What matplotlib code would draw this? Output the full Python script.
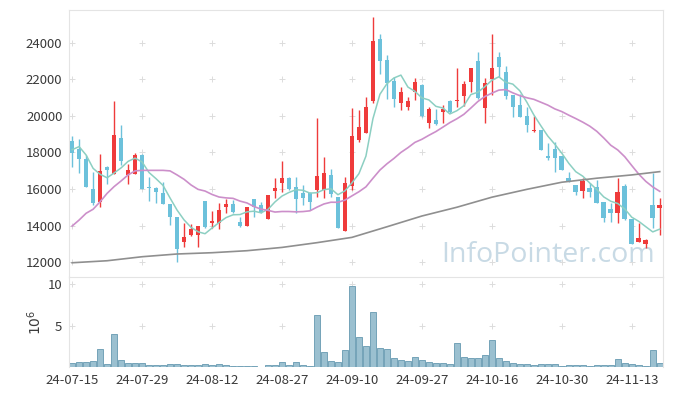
import matplotlib
matplotlib.use("Agg")
import matplotlib.pyplot as plt
import numpy as np
import pandas as pd

plt.rcParams['font.family'] = ['Noto Sans CJK KR', 'DejaVu Sans']

# daily OHLC, 2024-07-15 .. 2024-11-19 (85 trading days)
opens = [18630, 18210, 17640, 15980, 15270, 17200, 16820, 18810, 16780, 16840,
         17860, 16110, 16050, 15800, 15180, 14470, 13080, 13500, 13480, 15340,
         14150, 14120, 15030, 15180, 14190, 13990, 15450, 15120, 14370, 15910,
         16310, 16600, 16090, 15760, 15800, 15950, 15950, 16770, 15550, 13680,
         16180, 18680, 19080, 20840, 24220, 23070, 21920, 20730, 20510, 21300,
         21700, 19600, 19780, 20240, 20840, 20810, 21110, 21880, 23010, 20420,
         22010, 23220, 22390, 21150, 20600, 20000, 19150, 19230, 17810, 18190,
         17810, 16590, 16220, 15910, 16070, 16090, 15270, 14900, 14670, 16160,
         14360, 13110, 12970, 15120, 14980]
highs = [18900, 18720, 17860, 16950, 17920, 17280, 20820, 19490, 17370, 17960,
         17900, 16670, 16130, 16400, 15180, 14470, 14120, 14080, 13970, 15340,
         14790, 15220, 15440, 15400, 14450, 15000, 15450, 15300, 15670, 16590,
         17520, 16670, 16640, 16220, 15850, 19870, 17740, 17080, 15580, 16670,
         20420, 20330, 21060, 25440, 24490, 23340, 22150, 21610, 21060, 22100,
         21740, 20510, 20370, 20600, 20880, 22610, 21920, 22610, 23520, 22070,
         24490, 23490, 22760, 21150, 21210, 20510, 20000, 19230, 18500, 18560,
         17810, 16950, 16220, 16590, 16350, 16490, 15270, 15220, 16590, 16270,
         14360, 14120, 13240, 16860, 15490]
lows = [17220, 16860, 16090, 15120, 15000, 16270, 16810, 17330, 16270, 16820,
        16000, 15360, 15220, 15190, 14010, 11990, 12840, 13430, 12840, 13850,
        13850, 13790, 14670, 14670, 13930, 13990, 14480, 14670, 14370, 15490,
        15850, 15950, 14670, 15120, 14850, 15580, 15490, 15580, 13880, 13680,
        15950, 18590, 19050, 20700, 22300, 20930, 20510, 20330, 20330, 20880,
        19930, 19330, 19510, 19630, 20150, 20480, 20550, 21330, 20930, 19600,
        21150, 22150, 20930, 19960, 19960, 19140, 19120, 18140, 17590, 16920,
        17040, 16400, 15670, 15490, 15580, 15220, 14210, 14210, 14150, 14300,
        12990, 13110, 12750, 13850, 13480]
closes = [17990, 17660, 16130, 15250, 16990, 17040, 18960, 17530, 17040, 17880,
          16000, 16040, 15850, 15190, 14450, 12700, 13350, 13810, 13970, 13920,
          14260, 14850, 15160, 14740, 13990, 15000, 15030, 14720, 15670, 16040,
          16600, 16020, 15470, 15510, 15270, 16710, 16860, 15710, 13880, 16330,
          18900, 19380, 20510, 24110, 23030, 21790, 20950, 21300, 20840, 21860,
          20000, 20380, 19550, 20380, 20240, 20880, 21750, 22610, 21000, 21790,
          22610, 22700, 21100, 20510, 19960, 19510, 19210, 18140, 17670, 17720,
          17040, 16450, 15850, 16440, 15850, 15250, 14430, 14670, 15820, 14360,
          12990, 13300, 13210, 14390, 15120]
# volume, millions of shares
volumes = [0.48, 0.6, 0.6, 0.72, 2.16, 0.36, 3.96, 0.88, 0.48, 0.48,
           0.48, 0.24, 0.24, 0.24, 0.36, 0.36, 0.24, 0.24, 0.24, 0.36,
           0.24, 0.36, 0.24, 0.12, 0.12, 0.12, 0.12, 0.02, 0.24, 0.24,
           0.6, 0.24, 0.6, 0.24, 0.12, 6.24, 1.8, 0.72, 0.6, 2.04,
           9.76, 3.6, 2.52, 6.6, 2.28, 2.16, 1.08, 0.84, 0.72, 1.2,
           0.84, 0.6, 0.48, 0.48, 0.36, 2.88, 1.2, 1.08, 1.08, 1.44,
           3.24, 1.08, 0.72, 0.48, 0.36, 0.36, 0.24, 0.36, 0.36, 0.36,
           0.12, 0.24, 0.24, 0.24, 0.12, 0.24, 0.24, 0.24, 0.96, 0.48,
           0.36, 0.24, 0.12, 2.04, 0.48]

# moving averages before enough visible history exists
ma5_head = [18150, 18320, 17860, 17130]
ma20_head = [13970, 14300, 14670, 14890, 15300, 15760, 16130, 16440, 16770, 16990,
             17020, 17020, 17020, 17020, 16990, 16770, 16530, 16220, 15980]
# 120-day average, read every 5 sessions
ma120_idx = [0, 5, 10, 15, 20, 25, 30, 35, 40, 45, 50, 55, 60, 65, 70, 75, 80, 84]
ma120_val = [11960, 12070, 12290, 12440, 12510, 12620, 12800, 13060, 13350, 13930,
             14520, 15000, 15550, 15980, 16370, 16590, 16770, 16950]

tick_pos = [0, 10, 20, 30, 40, 50, 60, 70, 80]
tick_labels = ['24-07-15', '24-07-29', '24-08-12', '24-08-27', '24-09-10',
               '24-09-27', '24-10-16', '24-10-30', '24-11-13']
price_ticks = [12000, 14000, 16000, 18000, 20000, 22000, 24000]
vol_ticks = [5, 10]

UP = '#ef3b3b'
DOWN = '#6cc1db'
FRAME = '#e4e4e4'
TXT = '#3a3a3a'

o = np.array(opens)
h = np.array(highs)
l = np.array(lows)
c = np.array(closes)
x = np.arange(len(c))

s = pd.Series(closes, dtype=float)
ma5 = s.rolling(5).mean().to_numpy()
ma5[:4] = ma5_head
ma20 = s.rolling(20).mean().to_numpy()
ma20[:19] = ma20_head

fig = plt.figure(figsize=(6.73, 3.96), dpi=100)
ax = fig.add_axes([0.103, 0.3005, 0.8825, 0.6742])
axv = fig.add_axes([0.103, 0.0732, 0.8825, 0.2273], sharex=ax)

up = c >= o
colors = np.where(up, UP, DOWN)
ax.vlines(x, l, h, colors=colors, linewidth=1.0, zorder=2)
body_lo = np.minimum(o, c)
body_h = np.maximum(np.abs(c - o), 45)
ax.bar(x, body_h, bottom=body_lo, width=0.66, color=colors, linewidth=0, zorder=3)

ax.plot(x, ma5, color='#8ccfc2', linewidth=1.1, zorder=4)
ax.plot(x, ma20, color='#cc8fca', linewidth=1.2, zorder=4)
ax.plot(ma120_idx, ma120_val, color='#8f8f8f', linewidth=1.2, zorder=4)

ax.text(0.986, 0.082, 'InfoPointer.com', transform=ax.transAxes, ha='right', va='center',
        fontsize=20.5, color='#c8dae5', family=['Open Sans', 'DejaVu Sans'], zorder=1)

ax.set_xlim(-0.4, 84.5)
ax.set_ylim(11180, 25800)
ax.set_yticks(price_ticks)
ax.set_yticklabels([str(v) for v in price_ticks])

axv.bar(x, volumes, width=0.92, color='#9bc0d0', edgecolor='#74a3b8', linewidth=0.7, zorder=2)
axv.set_ylim(0, 10.85)
axv.set_yticks(vol_ticks)
axv.set_yticklabels(['5', '10'])
axv.set_xticks(tick_pos)
axv.set_xticklabels(tick_labels)
axv.set_ylabel(r'$10^6$', color=TXT, fontsize=10, labelpad=3)

# small crosses at the grid intersections
gx, gy = np.meshgrid(tick_pos, price_ticks)
ax.scatter(gx.ravel(), gy.ravel(), marker='+', s=14, color='#dcdcdc', linewidths=0.7, zorder=0)
gx, gy = np.meshgrid(tick_pos, vol_ticks)
axv.scatter(gx.ravel(), gy.ravel(), marker='+', s=14, color='#dcdcdc', linewidths=0.7, zorder=0)

for a in (ax, axv):
    a.tick_params(length=0, labelsize=9.5, labelcolor=TXT, pad=5)
    for sp in a.spines.values():
        sp.set_color(FRAME)
    a.spines['bottom'].set_visible(False)
ax.tick_params(labelbottom=False)

fig.savefig('out.png', dpi=100)
